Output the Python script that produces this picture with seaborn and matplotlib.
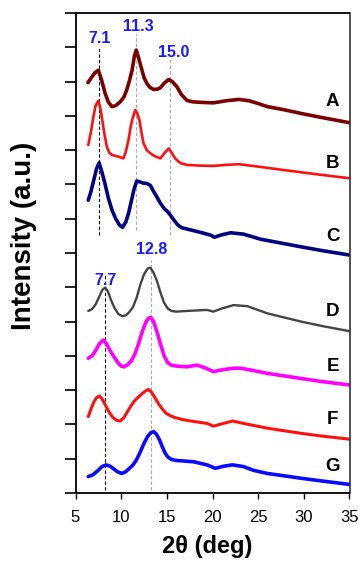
import matplotlib
matplotlib.use("Agg")
import matplotlib.pyplot as plt
import seaborn as sns

# ---------------- data ----------------
two_theta_A = [6.37, 6.7, 7.1, 7.5, 7.85, 8.24, 8.6, 8.98, 9.4, 9.9, 10.3, 10.6, 10.9, 11.2, 11.45, 11.65, 11.85, 12.05, 12.27, 12.5, 12.8, 13.15, 13.55, 14.0, 14.3, 14.7, 15.2, 15.6, 16.1, 16.6, 17.2, 17.8, 19.0, 20.1, 21.5, 22.9, 24.0, 25.0, 26.0, 27.8, 29.7, 32.0, 35.0]
intensity_A = [11.97, 12.1, 12.25, 12.33, 12.05, 11.66, 11.4, 11.27, 11.3, 11.41, 11.55, 11.75, 12.02, 12.34, 12.75, 12.92, 12.75, 12.55, 12.34, 12.12, 11.95, 11.83, 11.77, 11.78, 11.82, 11.95, 12.06, 12.0, 11.85, 11.62, 11.45, 11.41, 11.39, 11.38, 11.44, 11.48, 11.44, 11.36, 11.27, 11.18, 11.07, 10.95, 10.80]

two_theta_B = [6.4, 6.7, 6.96, 7.2, 7.5, 7.7, 7.88, 8.15, 8.43, 8.7, 8.98, 9.3, 9.7, 10.0, 10.25, 10.5, 10.8, 11.05, 11.3, 11.54, 11.75, 12.0, 12.2, 12.45, 12.8, 13.19, 13.7, 14.3, 14.7, 15.2, 15.55, 15.9, 16.5, 17.2, 18.5, 20.1, 21.5, 22.9, 25.0, 27.8, 31.0, 35.0]
intensity_B = [10.15, 10.55, 10.97, 11.3, 11.44, 11.25, 10.97, 10.5, 10.1, 9.93, 9.86, 9.84, 9.81, 9.78, 9.76, 9.95, 10.29, 10.7, 10.97, 11.17, 11.08, 10.88, 10.55, 10.2, 10.0, 9.91, 9.82, 9.76, 9.9, 10.05, 9.92, 9.76, 9.62, 9.57, 9.55, 9.54, 9.57, 9.59, 9.52, 9.42, 9.31, 9.18]

two_theta_C = [6.4, 6.7, 7.0, 7.3, 7.58, 7.85, 8.2, 8.6, 9.0, 9.4, 9.8, 10.14, 10.5, 10.8, 11.1, 11.4, 11.7, 12.0, 12.4, 12.8, 13.2, 13.5, 13.9, 14.3, 14.7, 15.1, 15.4, 15.8, 16.2, 16.6, 17.2, 17.8, 19.0, 19.8, 20.2, 21.0, 22.0, 23.4, 25.3, 27.5, 29.7, 32.0, 35.0]
intensity_C = [8.54, 8.8, 9.13, 9.45, 9.63, 9.4, 9.05, 8.6, 8.25, 8.0, 7.82, 7.75, 7.9, 8.15, 8.5, 8.85, 9.1, 9.08, 9.04, 9.03, 8.97, 8.82, 8.64, 8.45, 8.3, 8.2, 8.1, 7.95, 7.82, 7.74, 7.7, 7.66, 7.58, 7.52, 7.46, 7.53, 7.59, 7.55, 7.40, 7.29, 7.18, 7.07, 6.94]

two_theta_D = [6.4, 6.8, 7.2, 7.6, 7.95, 8.24, 8.55, 8.9, 9.3, 9.7, 10.1, 10.5, 10.9, 11.3, 11.7, 12.1, 12.5, 12.9, 13.19, 13.5, 13.9, 14.3, 14.7, 15.1, 15.5, 16.0, 17.2, 19.4, 20.1, 21.0, 22.3, 23.8, 26.0, 28.0, 29.7, 32.0, 35.0]
intensity_D = [5.31, 5.36, 5.5, 5.73, 5.93, 5.99, 5.88, 5.62, 5.38, 5.22, 5.16, 5.18, 5.28, 5.43, 5.7, 6.08, 6.38, 6.55, 6.57, 6.45, 6.2, 5.85, 5.55, 5.38, 5.31, 5.29, 5.31, 5.34, 5.29, 5.38, 5.48, 5.45, 5.24, 5.11, 5.0, 4.87, 4.72]

two_theta_E = [6.4, 6.8, 7.2, 7.6, 8.05, 8.4, 8.8, 9.2, 9.6, 10.0, 10.3, 10.7, 11.1, 11.5, 11.9, 12.3, 12.7, 13.0, 13.26, 13.55, 13.9, 14.3, 14.7, 15.1, 15.5, 16.1, 17.2, 18.3, 19.2, 20.1, 21.2, 22.3, 23.1, 24.5, 26.0, 29.7, 32.0, 35.0]
intensity_E = [3.93, 4.0, 4.15, 4.35, 4.46, 4.35, 4.15, 3.98, 3.82, 3.7, 3.68, 3.74, 3.85, 4.05, 4.35, 4.7, 4.98, 5.1, 5.12, 5.0, 4.72, 4.35, 4.0, 3.8, 3.73, 3.70, 3.68, 3.73, 3.65, 3.54, 3.6, 3.64, 3.64, 3.57, 3.49, 3.34, 3.25, 3.15]

two_theta_F = [6.4, 6.7, 7.0, 7.3, 7.6, 7.9, 8.3, 8.7, 9.1, 9.5, 9.9, 10.3, 10.7, 11.1, 11.5, 11.9, 12.3, 12.7, 13.0, 13.3, 13.7, 14.1, 14.5, 14.9, 15.4, 15.9, 16.6, 17.6, 19.4, 20.1, 21.2, 22.2, 23.4, 26.0, 29.7, 32.0, 35.0]
intensity_F = [2.23, 2.45, 2.65, 2.78, 2.83, 2.75, 2.55, 2.35, 2.2, 2.12, 2.10, 2.2, 2.38, 2.55, 2.7, 2.8, 2.9, 2.98, 3.02, 2.95, 2.78, 2.6, 2.45, 2.33, 2.25, 2.2, 2.15, 2.10, 2.03, 1.95, 2.03, 2.10, 2.03, 1.89, 1.74, 1.66, 1.57]

two_theta_G = [6.4, 6.9, 7.4, 7.9, 8.35, 8.8, 9.2, 9.6, 10.07, 10.5, 10.9, 11.3, 11.7, 12.1, 12.5, 12.9, 13.25, 13.55, 13.85, 14.2, 14.5, 14.8, 15.1, 15.5, 16.0, 17.0, 17.95, 19.4, 20.3, 21.2, 22.2, 23.4, 24.5, 26.0, 29.7, 32.0, 35.0]
intensity_G = [0.48, 0.53, 0.64, 0.77, 0.82, 0.78, 0.70, 0.62, 0.57, 0.62, 0.72, 0.82, 0.98, 1.2, 1.45, 1.65, 1.76, 1.79, 1.72, 1.55, 1.35, 1.17, 1.05, 0.98, 0.95, 0.93, 0.91, 0.82, 0.72, 0.78, 0.82, 0.77, 0.66, 0.57, 0.43, 0.35, 0.25]

sample_names = ["A", "B", "C", "D", "E", "F", "G"]
label_levels = [11.41, 9.62, 7.48, 5.29, 3.68, 2.13, 0.77]

peak_texts_top = ["7.1", "11.3", "15.0"]
peak_pos_top = [7.55, 11.65, 15.3]
peak_texts_bot = ["7.7", "12.8"]
peak_pos_bot = [8.24, 13.3]

x_ticks = [5, 10, 15, 20, 25, 30, 35]

# ---------------- styling ----------------
sns.set_theme(style="ticks")
plt.rcParams['font.family'] = ['Liberation Sans', 'DejaVu Sans']
plt.rcParams['text.color'] = 'black'
plt.rcParams['axes.labelcolor'] = 'black'

fig = plt.figure(figsize=(3.61, 5.64), dpi=100)
ax = fig.add_axes([75.5 / 361, 1 - 493 / 564, 274 / 361, 480 / 564])

series = [
    (two_theta_A, intensity_A, "#7a0000", 2.6),
    (two_theta_B, intensity_B, "#ff1010", 1.9),
    (two_theta_C, intensity_C, "#000080", 2.6),
    (two_theta_D, intensity_D, "#444444", 1.7),
    (two_theta_E, intensity_E, "#ff00ff", 2.6),
    (two_theta_F, intensity_F, "#ff1010", 2.2),
    (two_theta_G, intensity_G, "#0a0aff", 2.6),
]

# dashed reference lines
ax.plot([peak_pos_top[0]] * 2, [7.52, 13.0], ls=(0, (3, 2)), color="black", lw=0.8)
ax.plot([peak_pos_top[1]] * 2, [7.67, 13.4], ls=(0, (3, 2)), color="#aaaaaa", lw=0.8)
ax.plot([peak_pos_top[2]] * 2, [7.52, 12.68], ls=(0, (3, 2)), color="#aaaaaa", lw=0.8)
ax.plot([peak_pos_bot[0]] * 2, [0.08, 6.36], ls=(0, (3, 2)), color="black", lw=0.8)
ax.plot([peak_pos_bot[1]] * 2, [0.08, 6.8], ls=(0, (3, 2)), color="#aaaaaa", lw=0.8)

for xs, ys, c, w in series:
    sns.lineplot(x=xs, y=ys, color=c, lw=w, ax=ax, sort=False, estimator=None)

for name, lev in zip(sample_names, label_levels):
    ax.text(33.15, lev, name, fontsize=13.5, fontweight="bold", ha="center", va="center", color="black")

top_label_y = [13.27, 13.62, 12.85]
top_label_x = [7.6, 11.9, 15.7]
for t, xx, yy in zip(peak_texts_top, top_label_x, top_label_y):
    ax.text(xx, yy, t, fontsize=11.5, fontweight="bold", color="#1a1aff", ha="center", va="center")
bot_label_y = [6.21, 7.1]
bot_label_x = [8.24, 13.37]
for t, xx, yy in zip(peak_texts_bot, bot_label_x, bot_label_y):
    ax.text(xx, yy, t, fontsize=11.5, fontweight="bold", color="#1a1aff", ha="center", va="center")

ax.set_xlim(5, 35)
ax.set_ylim(0, 14)
ax.set_xticks(x_ticks)
ax.set_xticklabels([str(v) for v in x_ticks], fontsize=12)
ax.set_yticks(range(15))
ax.set_yticklabels([])
ax.tick_params(axis="x", direction="out", length=4, width=1.0, pad=8, colors="black")
ax.tick_params(axis="y", direction="out", length=8, width=1.2, colors="black")
for s in ["left", "bottom", "top"]:
    ax.spines[s].set_linewidth(1.3)
    ax.spines[s].set_color("black")
ax.spines["right"].set_linewidth(1.2)
ax.spines["right"].set_color("#333333")
ax.set_xlabel("")
ax.set_ylabel("")

fig.text(24 / 361, 1 - 236 / 564, "Intensity (a.u.)", rotation=90, fontsize=20,
         fontweight="bold", ha="center", va="center", color="black")
fig.text(207 / 361, 1 - 547 / 564, "2θ (deg)", fontsize=17, fontweight="bold",
         ha="center", va="center", color="black")

fig.savefig("out.png", dpi=100)
